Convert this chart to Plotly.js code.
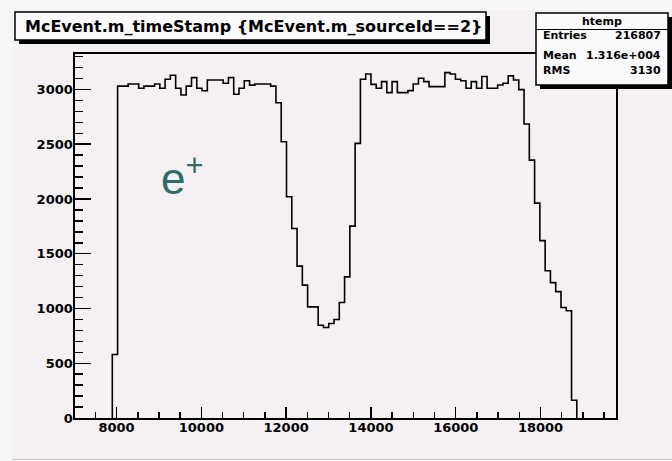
<!DOCTYPE html>
<html>
<head>
<meta charset="utf-8">
<script src="https://cdn.plot.ly/plotly-3.0.1.min.js"></script>
<style>
html,body{margin:0;padding:0;background:#f7f5f7;}
#chart{width:672px;height:461px;}
</style>
</head>
<body>
<div id="chart"></div>
<script>
// ---- data ----
const binStart = 7900;      // lower edge of first filled bin
const binWidth = 124.5;     // bin width
const counts = [
  580,
  3031, 3031, 3050, 3050, 3011, 3031, 3031, 3050, 3011, 3093,
  3130, 3011, 2950, 3031, 3108, 3011, 2989, 3087, 3087, 3087,
  3057, 3108, 2956, 3011, 3080, 3040, 3050, 3050, 3050, 3031,
  2879, 2523, 2020, 1731, 1387, 1213, 1015, 1015, 847, 826,
  863, 899, 1055, 1289, 1752, 2508,
  3093, 3141, 3047, 3011, 3072, 2971, 3072, 2971, 2971, 2990,
  3050, 3102, 3072, 3026, 3026, 3026, 3154, 3141, 3093, 3080,
  3011, 3072, 3011, 3118, 3011, 3011, 3041, 3057, 3124, 3087,
  2999,
  2685, 2355, 1962, 1620, 1345, 1236, 1154, 1009, 979, 162
];
const xTickVals = [8000, 10000, 12000, 14000, 16000, 18000];
const titleText = "McEvent.m_timeStamp {McEvent.m_sourceId==2}";
const statsName = "htemp";
const statsLabels = ["Entries", "Mean", "RMS"];
const statsValues = ["216807", "1.316e+004", "3130"];
const xRange = [7020, 19780];
const yRange = [0, 3324];

// ---- build step outline ----
const xs = [binStart], ys = [0];
counts.forEach((c, i) => { xs.push(binStart + i * binWidth); ys.push(c); });
xs.push(binStart + counts.length * binWidth); ys.push(0);

// ---- pixel -> paper helpers for decorations ----
const L = 75, R = 616, T = 54, B = 418;
const px = x => (x - L) / (R - L);
const py = y => (B - y) / (B - T);

const BOLD = "DejaVu Sans, Liberation Sans, Arial, sans-serif";
const PLAIN = "Liberation Sans, Arial, Helvetica, sans-serif";
const CANVAS = '#f4f0f4';

const shapes = [
  // canvas area (slightly darker than the outer strip)
  {type:'rect', xref:'paper', yref:'paper', x0:px(12), x1:px(680), y0:py(459), y1:py(10),
   fillcolor:CANVAS, line:{width:0}, layer:'below'},
  {type:'line', xref:'paper', yref:'paper', x0:px(12), x1:px(672), y0:py(459.5), y1:py(459.5),
   line:{color:'#c9c5c9', width:1}, layer:'below'},
  // title box shadow + box
  {type:'rect', xref:'paper', yref:'paper', x0:px(19), x1:px(490), y0:py(44), y1:py(16),
   fillcolor:'#000', line:{width:0}, layer:'above'},
  {type:'rect', xref:'paper', yref:'paper', x0:px(15), x1:px(486), y0:py(40), y1:py(12),
   fillcolor:'#fbf9fb', line:{color:'#000', width:1.5}, layer:'above'},
  // stats box shadow + box
  {type:'rect', xref:'paper', yref:'paper', x0:px(540), x1:px(672), y0:py(89), y1:py(17),
   fillcolor:'#000', line:{width:0}, layer:'above'},
  {type:'rect', xref:'paper', yref:'paper', x0:px(536), x1:px(668), y0:py(85), y1:py(13),
   fillcolor:'#fbf9fb', line:{color:'#000', width:1.5}, layer:'above'},
  {type:'line', xref:'paper', yref:'paper', x0:px(536), x1:px(668), y0:py(29.5), y1:py(29.5),
   line:{color:'#000', width:1.2}, layer:'above'}
];

const annotations = [
  {xref:'paper', yref:'paper', x:px(23), y:py(26), xanchor:'left', yanchor:'middle',
   text:titleText, showarrow:false, font:{family:BOLD, size:16, color:'#000', weight:'bold'}},
  {xref:'paper', yref:'paper', x:px(602), y:py(21), xanchor:'center', yanchor:'middle',
   text:statsName, showarrow:false, font:{family:BOLD, size:11, color:'#000', weight:'bold'}},
  {xref:'paper', yref:'paper', x:px(159), y:py(175), xanchor:'left', yanchor:'middle',
   text:'e<sup>+</sup>', showarrow:false, font:{family:PLAIN, size:44, color:'#2f6b68', weight:'normal'}}
];
const statsY = [36, 55, 71];
statsLabels.forEach((lab, i) => {
  annotations.push({xref:'paper', yref:'paper', x:px(541), y:py(statsY[i]), xanchor:'left', yanchor:'middle',
    text:lab, showarrow:false, font:{family:BOLD, size:11, color:'#000', weight:'bold'}});
  annotations.push({xref:'paper', yref:'paper', x:px(663), y:py(statsY[i]), xanchor:'right', yanchor:'middle',
    text:statsValues[i], showarrow:false, font:{family:BOLD, size:11, color:'#000', weight:'bold'}});
});

const trace = {
  type:'scatter', mode:'lines', x:xs, y:ys,
  line:{shape:'hv', color:'#000', width:1.6},
  hoverinfo:'skip', showlegend:false
};

const tickFont = {family:BOLD, size:13, color:'#000', weight:'bold'};
const layout = {
  width:672, height:461,
  margin:{l:L, r:672-R, t:T, b:461-B, pad:0},
  paper_bgcolor:'#f7f5f7', plot_bgcolor:CANVAS,
  font:{family:PLAIN, size:13, color:'#000'},
  showlegend:false,
  xaxis:{
    range:xRange, tickvals:xTickVals, tickformat:'d',
    ticks:'inside', ticklen:11, tickwidth:1.5, tickcolor:'#000',
    showline:true, linecolor:'#000', linewidth:1.6, mirror:true,
    showgrid:false, zeroline:false, ticklabelstandoff:-3,
    tickfont:tickFont,
    minor:{dtick:500, tick0:0, ticks:'inside', ticklen:6, tickwidth:1.5, tickcolor:'#000', showgrid:false}
  },
  yaxis:{
    range:yRange, dtick:500, tick0:0, tickformat:'d',
    ticks:'inside', ticklen:16, tickwidth:1.5, tickcolor:'#000',
    showline:true, linecolor:'#000', linewidth:1.6, mirror:true,
    showgrid:false, zeroline:false, ticklabelstandoff:-2,
    tickfont:tickFont,
    minor:{dtick:100, tick0:0, ticks:'inside', ticklen:8, tickwidth:1.5, tickcolor:'#000', showgrid:false}
  },
  shapes:shapes,
  annotations:annotations
};

Plotly.newPlot('chart', [trace], layout, {staticPlot:true, displayModeBar:false});
</script>
</body>
</html>
